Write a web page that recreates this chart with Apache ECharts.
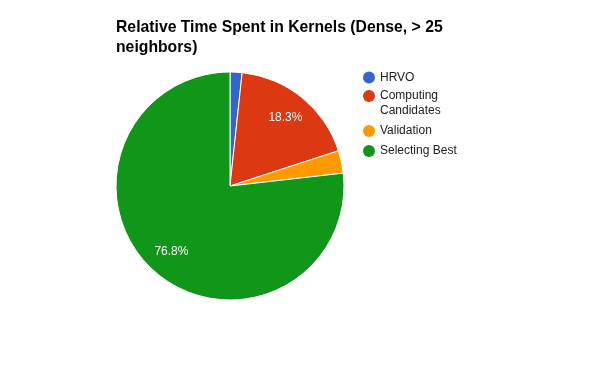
<!DOCTYPE html>
<html><head><meta charset="utf-8">
<script src="https://cdn.jsdelivr.net/npm/echarts@6/dist/echarts.min.js"></script>
<style>html,body{margin:0;padding:0;background:#fff}#c{width:600px;height:371px}</style>
</head><body><div id="c"></div>
<script>
const titleText = 'Relative Time Spent in Kernels (Dense, > 25\nneighbors)';
const categories = ['HRVO', 'Computing Candidates', 'Validation', 'Selecting Best'];
const legendLabels = ['HRVO', '\nComputing\nCandidates', 'Validation', 'Selecting Best'];
const values = [1.7, 18.3, 3.2, 76.8];
const showLabel = [false, true, false, true];
const colors = ['#3366cc', '#dc3912', '#ff9900', '#109618'];

const chart = echarts.init(document.getElementById('c'), null, {renderer: 'canvas'});
const FONT = 'Arial, "Liberation Sans", sans-serif';
const legendTops = [70, 73.5, 123.5, 143.5];
const legends = categories.map((name, i) => ({
  orient: 'vertical', left: 363, top: legendTops[i], padding: 0,
  icon: 'circle', itemWidth: 12, itemHeight: 12, itemGap: 0, itemTextGap: 6, selectedMode: false,
  data: [name],
  formatter: n => legendLabels[categories.indexOf(n)],
  textStyle: {fontFamily: FONT, fontSize: 12, color: '#222', lineHeight: 15},
  itemStyle: {borderWidth: 0}
}));

chart.setOption({
  animation: false,
  color: colors,
  title: {text: titleText, left: 111, top: 13,
    textStyle: {fontFamily: FONT, fontSize: 15.75, fontWeight: 'bold', color: '#000', lineHeight: 20}},
  legend: legends,
  series: [{
    type: 'pie', center: [230, 186], radius: [0, 114], startAngle: 90, clockwise: true,
    silent: true, label: {show: false}, labelLine: {show: false},
    itemStyle: {borderColor: '#fff', borderWidth: 1},
    data: categories.map((n, i) => ({name: n, value: values[i]}))
  }, {
    type: 'pie', center: [230, 186], radius: [56, 114], startAngle: 90, clockwise: true,
    silent: true, legendHoverLink: false, z: 5,
    itemStyle: {color: 'rgba(0,0,0,0)', borderWidth: 0},
    labelLine: {show: false},
    label: {position: 'inside', color: '#fff', fontFamily: FONT, fontSize: 12,
      formatter: p => p.value.toFixed(1) + '%'},
    data: categories.map((n, i) => ({name: n, value: values[i], label: {show: showLabel[i]}}))
  }]
});
</script></body></html>
